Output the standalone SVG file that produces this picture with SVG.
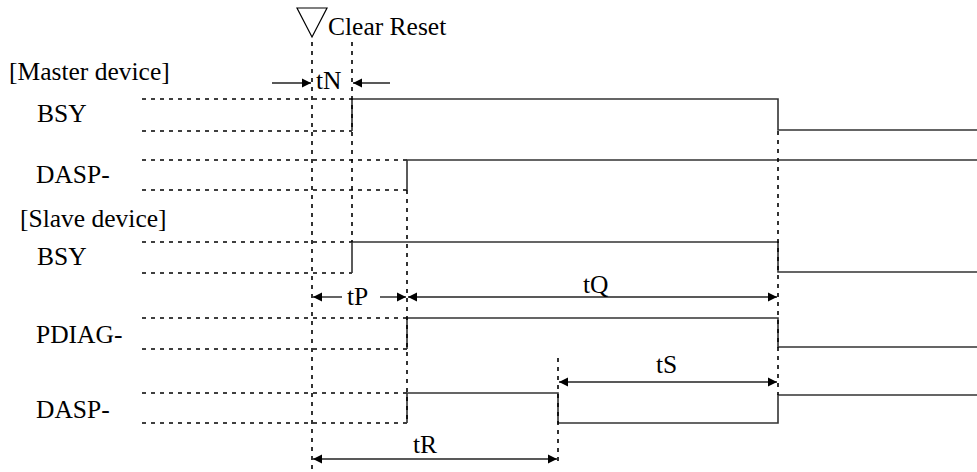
<svg xmlns="http://www.w3.org/2000/svg" width="977" height="472" viewBox="0 0 977 472">
<style>
text{font-family:"Liberation Serif","Times New Roman",serif;font-size:25.5px;fill:#000}
.sig{fill:none;stroke:#333;stroke-width:1.6}
.dot{fill:none;stroke:#000;stroke-width:1.6;stroke-dasharray:4 5}
.dim{fill:none;stroke:#222;stroke-width:1.4}
</style>
<defs>
<marker id="ah" viewBox="0 0 10 10" refX="10" refY="5" markerWidth="9" markerHeight="10" markerUnits="userSpaceOnUse" orient="auto-start-reverse">
<path d="M0,0 L10,5 L0,10 z" fill="#000"/>
</marker>
</defs>
<rect width="977" height="472" fill="#fff"/>
<g id="clear-reset">
<polygon points="297,8 327,8 312,37" fill="none" stroke="#000" stroke-width="1.2"/>
<text x="328" y="35">Clear Reset</text>
</g>
<g id="labels">
<text x="9" y="80">[Master device]</text>
<text x="37" y="122">BSY</text>
<text x="36" y="183">DASP-</text>
<text x="20" y="227">[Slave device]</text>
<text x="37" y="265">BSY</text>
<text x="36" y="343">PDIAG-</text>
<text x="36" y="418">DASP-</text>
</g>
<g id="master-bsy">
<path class="dot" d="M142,99 H352 M142,131 H352"/>
<path class="sig" d="M352,131 V99 H778 V130 H977"/>
</g>
<g id="master-dasp">
<path class="dot" d="M142,160 H407 M142,190 H407"/>
<path class="sig" d="M407,190 V160 H977"/>
</g>
<g id="slave-bsy">
<path class="dot" d="M142,242 H352 M142,273 H352"/>
<path class="sig" d="M352,273 V242 H778 V272 H977"/>
</g>
<g id="slave-pdiag">
<path class="dot" d="M142,318 H407 M142,349 H407"/>
<path class="sig" d="M407,349 V318 H778 V347 H977"/>
</g>
<g id="slave-dasp">
<path class="dot" d="M142,393 H407 M142,423 H407"/>
<path class="sig" d="M407,423 V393 H558 V423 H778 V395 H977"/>
</g>
<g id="connectors">
<path class="dot" d="M312,42 V472 M352,42 V242 M407,190 V423 M778,131 V395 M558,358 V466"/>
<path class="dim" d="M272,83 H311" marker-end="url(#ah)"/>
<path class="dim" d="M390,83 H353" marker-end="url(#ah)"/>
<path class="dim" d="M342,297 H313" marker-end="url(#ah)"/>
<path class="dim" d="M380,297 H406" marker-end="url(#ah)"/>
<path class="dim" d="M408,297 H777" marker-start="url(#ah)" marker-end="url(#ah)"/>
<path class="dim" d="M559,382 H777" marker-start="url(#ah)" marker-end="url(#ah)"/>
<path class="dim" d="M313,459 H557" marker-start="url(#ah)" marker-end="url(#ah)"/>
<text x="316" y="89">tN</text>
<text x="347" y="305">tP</text>
<text x="583" y="293">tQ</text>
<text x="656" y="373">tS</text>
<text x="413" y="453">tR</text>
</g>
</svg>
